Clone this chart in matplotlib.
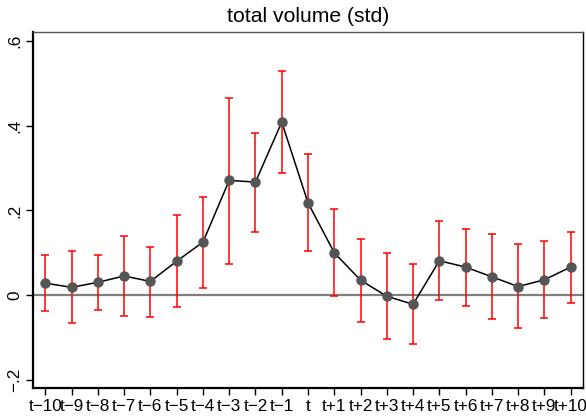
import matplotlib
matplotlib.use("Agg")
import matplotlib.pyplot as plt
import numpy as np

labels = ["t\u221210", "t\u22129", "t\u22128", "t\u22127", "t\u22126", "t\u22125", "t\u22124",
          "t\u22123", "t\u22122", "t\u22121", "t", "t+1", "t+2", "t+3", "t+4", "t+5",
          "t+6", "t+7", "t+8", "t+9", "t+10"]
rel_time = list(range(-10, 11))
estimate = [0.028, 0.018, 0.030, 0.045, 0.032, 0.080, 0.125, 0.271, 0.267, 0.409,
            0.218, 0.100, 0.035, -0.003, -0.022, 0.081, 0.066, 0.043, 0.020, 0.036, 0.066]
upper = [0.095, 0.103, 0.095, 0.140, 0.113, 0.188, 0.232, 0.467, 0.384, 0.529,
         0.334, 0.203, 0.133, 0.100, 0.074, 0.175, 0.157, 0.144, 0.120, 0.127, 0.150]
lower = [-0.039, -0.066, -0.036, -0.050, -0.051, -0.028, 0.017, 0.073, 0.150, 0.289,
         0.103, -0.002, -0.064, -0.105, -0.117, -0.012, -0.025, -0.056, -0.078, -0.055, -0.019]
yticks = [-0.2, 0.0, 0.2, 0.4, 0.6]
ytick_labels = ["\u2212.2", "0", ".2", ".4", ".6"]
title = "total volume (std)"

plt.rcParams['font.family'] = ['Liberation Sans', 'DejaVu Sans']

fig = plt.figure(figsize=(5.86, 4.17), dpi=100)
ax = fig.add_axes([33/586, 1 - 388/417, (583-33)/586, (388-32)/417])

x = np.array(rel_time)
est = np.array(estimate)
up = np.array(upper)
lo = np.array(lower)

ax.axhline(0, color="#7f7f7f", lw=1.6, zorder=1)
ax.errorbar(x, est, yerr=[est - lo, up - est], fmt="none", ecolor="#ff0000",
            elinewidth=1.1, capsize=3.2, capthick=1.1, zorder=2)
ax.plot(x, est, color="black", lw=1.1, zorder=3)
ax.plot(x, est, "o", color="#555555", ms=6.5, zorder=4)

ax.set_xlim(-10.47, 10.47)
ax.set_ylim(-0.220, 0.622)
ax.set_xticks(x)
ax.set_xticklabels(labels, fontsize=12.3)
ax.set_yticks(yticks)
ax.set_yticklabels(ytick_labels, fontsize=12.3, rotation=90, va="center")

ax.tick_params(axis="both", direction="out", length=5, width=1, color="black")
ax.tick_params(axis="x", pad=3)
ax.tick_params(axis="y", pad=3)

ax.spines["left"].set_linewidth(1.6)
ax.spines["bottom"].set_linewidth(1.6)
ax.spines["top"].set_linewidth(1.0)
ax.spines["right"].set_linewidth(1.0)
ax.spines["top"].set_color("#555555")

fig.text(0.5 * (33 + 583) / 586, 1 - 17/417, title, ha="center", va="center", fontsize=15.2)

fig.savefig("out.png", dpi=100)
